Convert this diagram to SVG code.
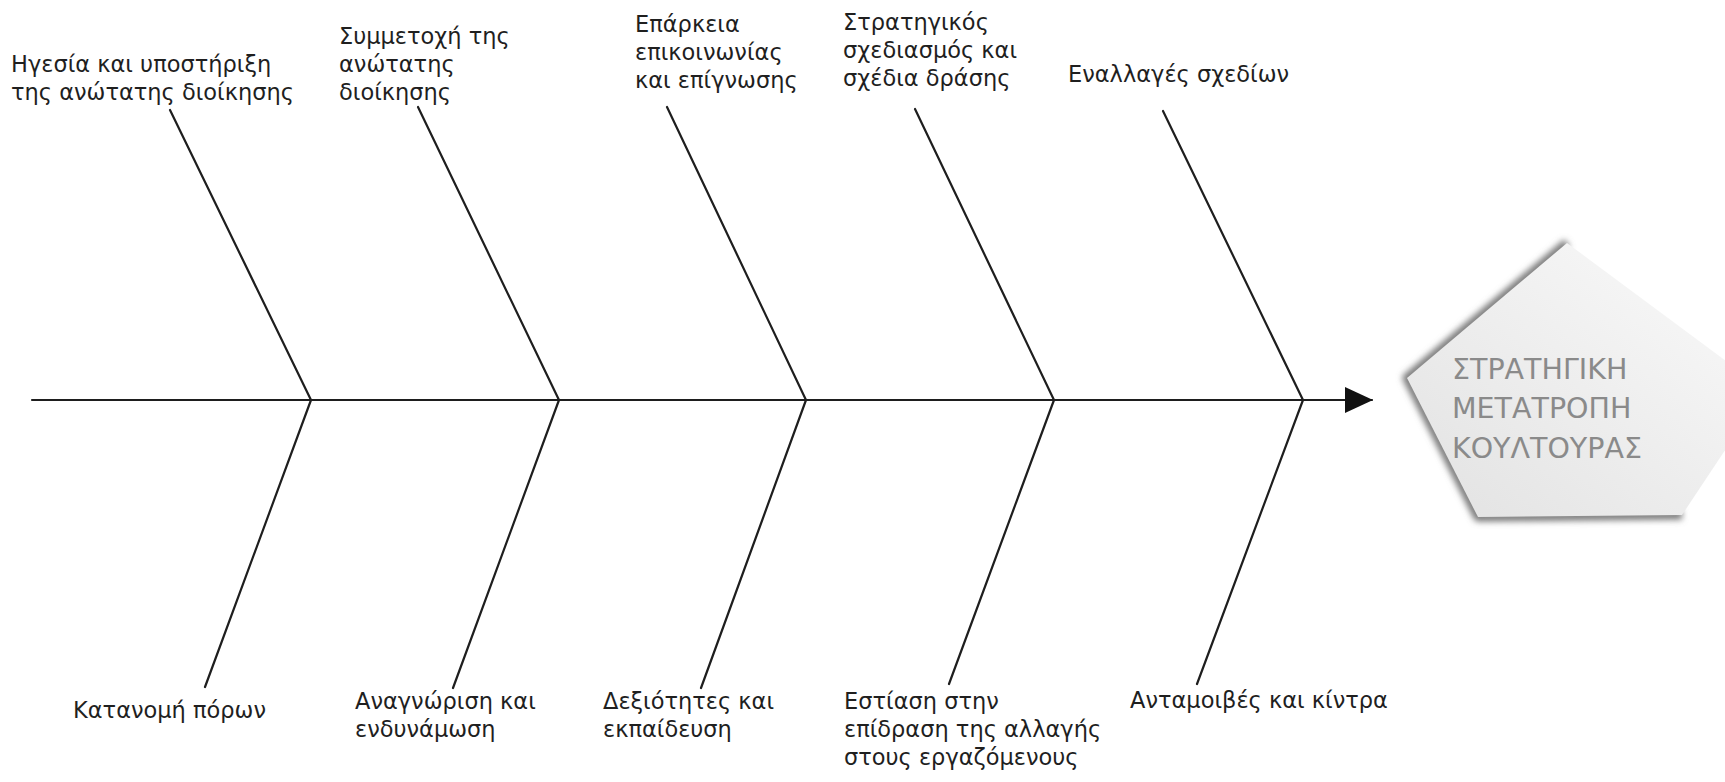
<svg xmlns="http://www.w3.org/2000/svg" width="1725" height="782" viewBox="0 0 1725 782">
  <style>
    .bone { stroke: #1e1e1e; stroke-width: 2.2; fill: none; stroke-linecap: round; }
    .label { font-family: "DejaVu Sans", "Open Sans", sans-serif; font-size: 22.5px; fill: #1f1f1f; }
    .head-text { font-family: "DejaVu Sans", "Open Sans", sans-serif; font-size: 28.5px; fill: #8a8a8a; }
  </style>
  <defs>
    <marker id="arrow" viewBox="0 0 28 26" refX="27" refY="13" markerWidth="28" markerHeight="26" markerUnits="userSpaceOnUse" orient="auto">
      <path d="M0,0 L28,13 L0,26 Z" fill="#111"/>
    </marker>
    <linearGradient id="face" x1="1" y1="0" x2="0" y2="1">
      <stop offset="0" stop-color="#fbfbfb"/>
      <stop offset="1" stop-color="#e2e2e2"/>
    </linearGradient>
    <filter id="soft" x="-20%" y="-20%" width="140%" height="140%">
      <feGaussianBlur stdDeviation="3"/>
    </filter>
  </defs>

  <rect width="1725" height="782" fill="#ffffff"/>

  <!-- spine and bones -->
  <g id="connectors">
    <line class="bone" x1="32" y1="400" x2="1372" y2="400" stroke-width="2.6" marker-end="url(#arrow)"/>
    <!-- upper bones -->
    <line class="bone" x1="170" y1="110" x2="311" y2="400"/>
    <line class="bone" x1="418" y1="107" x2="559" y2="400"/>
    <line class="bone" x1="667" y1="107" x2="806" y2="400"/>
    <line class="bone" x1="915" y1="109" x2="1054" y2="400"/>
    <line class="bone" x1="1163" y1="111" x2="1303" y2="400"/>
    <!-- lower bones -->
    <line class="bone" x1="311" y1="400" x2="205" y2="687"/>
    <line class="bone" x1="559" y1="400" x2="453" y2="688"/>
    <line class="bone" x1="806" y1="400" x2="701" y2="688"/>
    <line class="bone" x1="1054" y1="400" x2="949" y2="684"/>
    <line class="bone" x1="1303" y1="400" x2="1197" y2="684"/>
  </g>

  <!-- upper causes -->
  <g id="cause-leadership">
    <text class="label" x="11" y="72">Ηγεσία και υποστήριξη</text>
    <text class="label" x="11" y="100">της ανώτατης διοίκησης</text>
  </g>
  <g id="cause-involvement">
    <text class="label" x="339" y="44">Συμμετοχή της</text>
    <text class="label" x="339" y="72">ανώτατης</text>
    <text class="label" x="339" y="100">διοίκησης</text>
  </g>
  <g id="cause-communication">
    <text class="label" x="635" y="32">Επάρκεια</text>
    <text class="label" x="635" y="60">επικοινωνίας</text>
    <text class="label" x="635" y="88">και επίγνωσης</text>
  </g>
  <g id="cause-planning">
    <text class="label" x="843" y="30">Στρατηγικός</text>
    <text class="label" x="843" y="58">σχεδιασμός και</text>
    <text class="label" x="843" y="86">σχέδια δράσης</text>
  </g>
  <g id="cause-alternation">
    <text class="label" x="1068" y="82">Εναλλαγές σχεδίων</text>
  </g>

  <!-- lower causes -->
  <g id="cause-resources">
    <text class="label" x="73" y="718">Κατανομή πόρων</text>
  </g>
  <g id="cause-recognition">
    <text class="label" x="355" y="709">Αναγνώριση και</text>
    <text class="label" x="355" y="737">ενδυνάμωση</text>
  </g>
  <g id="cause-skills">
    <text class="label" x="603" y="709">Δεξιότητες και</text>
    <text class="label" x="603" y="737">εκπαίδευση</text>
  </g>
  <g id="cause-focus">
    <text class="label" x="844" y="709">Εστίαση στην</text>
    <text class="label" x="844" y="737">επίδραση της αλλαγής</text>
    <text class="label" x="844" y="765">στους εργαζόμενους</text>
  </g>
  <g id="cause-rewards">
    <text class="label" x="1130" y="708">Ανταμοιβές και κίντρα</text>
  </g>

  <!-- effect: pentagon head -->
  <g id="effect">
    <path d="M1567,243 L1407,378 L1478,517 L1682,515" fill="none" stroke="#777" stroke-width="9" stroke-linejoin="round" filter="url(#soft)"/>
    <polygon points="1567,243 1407,378 1478,517 1682,515 1765,390" fill="url(#face)"/>
    <text class="head-text" x="1452" y="379">ΣΤΡΑΤΗΓΙΚΗ</text>
    <text class="head-text" x="1452" y="418">ΜΕΤΑΤΡΟΠΗ</text>
    <text class="head-text" x="1452" y="458">ΚΟΥΛΤΟΥΡΑΣ</text>
  </g>
</svg>
